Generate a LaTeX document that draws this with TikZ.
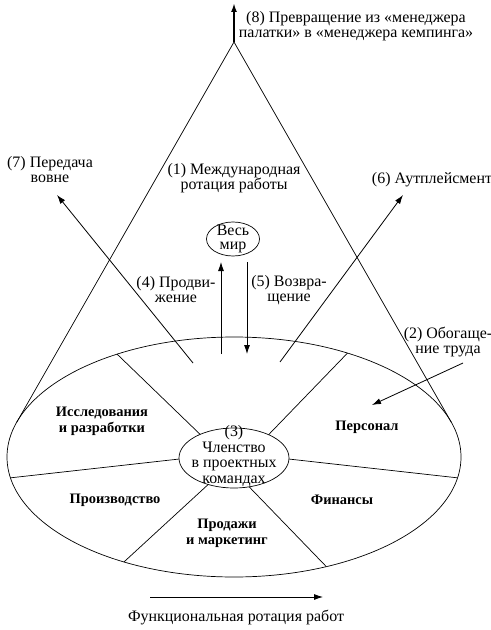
\documentclass[tikz,border=0pt]{standalone}
\usepackage{fontspec}
\setmainfont{Liberation Serif}
\usetikzlibrary{arrows.meta,shapes.geometric,calc}

\begin{document}
\begin{tikzpicture}[x=1bp, y=-1bp,
    every node/.style={font=\fontsize{16}{15}\selectfont, align=center, inner sep=0pt},
    dept/.style={font=\fontsize{14.5}{16}\selectfont\bfseries},
    arr/.style={-{Latex[length=9bp,width=6bp]}, line width=0.8bp},
    rim/.style={line width=0.7bp}]
    \useasboundingbox (0,0) rectangle (491,630);

    % cone
    \coordinate (apex) at (234,42);
    \coordinate (topend) at (234,3);
    \draw [rim] (16.7,422.3) -- (apex) -- (451.3,422.3);
    \draw [arr, line width=1.8bp] (apex) -- (topend);
    \node (label8) at (356,26) {(8) Превращение из «менеджера\\палатки» в «менеджера кемпинга»};

    % functions
    \draw [rim] (234,457) ellipse [x radius=227, y radius=120];
    \draw [rim] (234,458) ellipse [x radius=55, y radius=30];
    \foreach \i/\o in {-128/-121, -51/-60, 178/170, 2/10, 118/119, 74/66}
        \draw [rim] ($(234,458)+(\i:55 and 30)$) -- ($(234,457)+(\o:227 and 120)$);

    \node (team) at (234,456) [font=\fontsize{16}{16}\selectfont] {(3)\\Членство\\в проектных\\командах};
    \node (rnd)   [dept] at (102,421) {Исследования\\и разработки};
    \node (hr)    [dept] at (367,427) {Персонал};
    \node (prod)  [dept] at (115,500) {Производство};
    \node (fin)   [dept] at (342,500) {Финансы};
    \node (sales) [dept] at (227,533) {Продажи\\и маркетинг};

    % world
    \node (world) at (233,239) [draw, rim, ellipse, inner sep=-5bp, minimum width=53bp, minimum height=34bp] {Весь\\мир};
    \node (label1) at (234,178) {(1) Международная\\ротация работы};
    \node (label4) at (176,290) {(4) Продви-\\жение};
    \node (label5) at (289,290) {(5) Возвра-\\щение};
    \coordinate (up0) at (221,354);
    \coordinate (up1) at (221,262);
    \coordinate (down0) at (247,262);
    \coordinate (down1) at (247,354);
    \draw [arr] (up0) -- (up1);
    \draw [arr] (down0) -- (down1);

    % out of the firm
    \node (label7) at (50,170) {(7) Передача\\вовне};
    \node (label6) at (432,180) {(6) Аутплейсмент};
    \coordinate (out7a) at (193,363);
    \coordinate (out7b) at (57,195);
    \coordinate (out6a) at (280,362);
    \coordinate (out6b) at (403,195);
    \draw [arr] (out7a) -- (out7b);
    \draw [arr] (out6a) -- (out6b);

    % enrichment
    \node (label2) at (448,342) {(2) Обогаще-\\ние труда};
    \coordinate (enr0) at (463,363);
    \coordinate (enr1) at (372,405);
    \draw [arr] (enr0) -- (enr1);

    % functional rotation
    \coordinate (rot0) at (150,597);
    \coordinate (rot1) at (323,597);
    \draw [arr] (rot0) -- (rot1);
    \node (rotation) at (236,618) {Функциональная ротация работ};
\end{tikzpicture}
\end{document}
